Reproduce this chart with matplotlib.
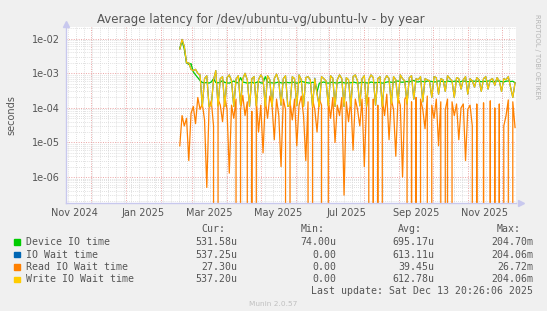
import matplotlib
matplotlib.use('Agg')
import matplotlib.pyplot as plt
import matplotlib.dates as mdates
import matplotlib.ticker as mticker
from matplotlib.patches import Rectangle
import numpy as np
import pandas as pd

# values, in microseconds, one point every 2 days from 2025-02-18
device_io_us = [5300, 8500, 5000, 2000, 1800, 1900, 1100, 900, 750, 620, 540,
	530, 540, 520, 560, 700, 540, 530, 550, 620, 540,
	530, 520, 560, 600, 540, 530, 750, 560, 540, 520,
	530, 550, 520, 540, 580, 530, 520, 800, 560, 540,
	530, 520, 540, 560, 530, 520, 550, 540, 530, 560,
	540, 520, 530, 600, 560, 540, 530, 520, 550, 530,
	290, 520, 540, 560, 530, 520, 540, 550, 530, 520,
	540, 560, 530, 520, 540, 530, 560, 540, 520, 530,
	550, 540, 530, 520, 560, 540, 530, 550, 540, 520,
	530, 560, 570, 550, 540, 580, 600, 560, 550, 570,
	580, 560, 600, 620, 570, 560, 590, 580, 560, 600,
	590, 580, 560, 570, 600, 590, 580, 560, 600, 580,
	570, 590, 600, 560, 580, 600, 590, 570, 580, 600,
	590, 580, 600, 570, 590, 580, 600, 590, 570, 580,
	600, 590, 580, 560, 590, 600, 580, 590, 530]

write_wait_us = [5000, 9500, 6000, 2000, 2000, 1300, 1200, 1300, 1000, 900, 110,
	700, 850, 110, 120, 650, 1200, 115, 700, 800, 110,
	750, 900, 600, 110, 680, 850, 120, 700, 1000, 650,
	110, 700, 800, 115, 650, 900, 700, 110, 850, 650,
	110, 700, 950, 600, 120, 700, 850, 110, 120, 800,
	700, 115, 900, 650, 110, 750, 800, 650, 110, 700,
	250, 110, 800, 700, 600, 115, 850, 700, 110, 650,
	900, 700, 110, 750, 650, 110, 800, 900, 600, 115,
	700, 850, 110, 650, 900, 750, 120, 700, 800, 110,
	650, 850, 700, 130, 800, 650, 140, 900, 700, 600,
	130, 750, 850, 180, 700, 650, 800, 150, 700, 650,
	600, 200, 800, 750, 250, 700, 650, 300, 850, 700,
	600, 200, 750, 700, 350, 650, 800, 250, 700, 600,
	400, 750, 650, 300, 700, 800, 350, 650, 700, 450,
	750, 600, 300, 700, 650, 800, 400, 200, 537]

io_wait_us = [5000, 9500, 6000, 2000, 2000, 1300, 1200, 1300, 1000, 900, 110,
	700, 850, 110, 120, 650, 1200, 115, 700, 800, 110,
	750, 900, 600, 110, 680, 850, 120, 700, 1000, 650,
	110, 700, 800, 115, 650, 900, 700, 110, 850, 650,
	110, 700, 950, 600, 120, 700, 850, 110, 120, 800,
	700, 115, 900, 650, 110, 750, 800, 650, 110, 720,
	260, 110, 800, 700, 600, 115, 850, 720, 110, 650,
	900, 700, 110, 750, 650, 110, 800, 900, 600, 115,
	700, 850, 110, 650, 900, 750, 120, 700, 800, 110,
	650, 850, 700, 130, 800, 650, 140, 900, 700, 600,
	130, 750, 850, 180, 700, 650, 800, 150, 700, 650,
	600, 200, 800, 750, 250, 700, 650, 300, 850, 700,
	600, 200, 750, 700, 350, 650, 800, 250, 700, 600,
	400, 750, 650, 300, 700, 800, 350, 650, 700, 450,
	750, 600, 300, 700, 650, 800, 400, 200, 537]

read_wait_us = [8, 60, 30, 50, 3, 70, 110, 35, 200, 90,
	130, 45, 0.5, 100, 160, 30, 0, 180, 120, 40,
	220, 90, 1.3, 120, 50, 180, 0, 90, 230, 60,
	150, 0, 80, 0, 180, 20, 120, 5, 180, 50,
	220, 120, 12, 180, 60, 2, 180, 90, 0, 150,
	45, 180, 8, 120, 220, 60, 3, 150, 0, 180,
	90, 20, 180, 120, 0, 0, 180, 50, 200, 10,
	120, 60, 200, 0.3, 150, 40, 180, 6, 180, 90,
	30, 180, 2, 120, 200, 0, 180, 0, 120, 0,
	180, 60, 250, 12, 180, 90, 4, 200, 120, 1,
	180, 220, 0, 150, 0, 200, 0, 180, 90, 25,
	220, 0, 120, 50, 180, 8, 150, 0, 90, 180,
	0, 150, 60, 130, 12, 100, 130, 3, 90, 120,
	30, 0, 130, 0, 0, 140, 0, 0, 160, 0,
	100, 0, 130, 0, 30, 60, 170, 0, 150, 27]

series_names = ['Device IO time', 'IO Wait time', 'Read IO Wait time', 'Write IO Wait time']
series_cols = ['#00cc00', '#0066b3', '#ff8000', '#ffcc00']
cur_txt = ['531.58u', '537.25u', '27.30u', '537.20u']
min_txt = ['74.00u', '0.00', '0.00', '0.00']
avg_txt = ['695.17u', '613.11u', '39.45u', '612.78u']
max_txt = ['204.70m', '204.06m', '26.72m', '204.06m']

xlabels = ['Nov 2024', 'Jan 2025', 'Mar 2025', 'May 2025', 'Jul 2025', 'Sep 2025', 'Nov 2025']
xlabel_dates = ['2024-11-16', '2025-01-16', '2025-03-16', '2025-05-16', '2025-07-16', '2025-09-16', '2025-11-16']

W = 547
H = 311
txtcol = '#555555'

fig = plt.figure(figsize=(W/100., H/100.), dpi=100, facecolor='#f0f0f0')
ax = fig.add_axes([66./W, 1-203./H, 450./W, 176./H])
ax.set_facecolor('white')

dates = pd.date_range('2025-02-18', periods=len(write_wait_us), freq='2D')
all_series = [device_io_us, io_wait_us, read_wait_us, write_wait_us]
for s, c in zip(all_series, series_cols):
	ax.plot(dates, np.array(s)*1e-6, color=c, lw=0.9)

ax.set_yscale('log')
t_end = pd.Timestamp('2025-12-13 20:26:06')
ax.set_xlim(t_end - pd.Timedelta(days=400), t_end)
ax.set_ylim(1.78e-7, 0.0218)

# grid: red dotted for months / decades, grey dotted for weeks / sub-decades
ax.xaxis.set_major_locator(mdates.MonthLocator())
ax.xaxis.set_minor_locator(mdates.WeekdayLocator(byweekday=mdates.MO))
ax.xaxis.set_major_formatter(mticker.NullFormatter())
ax.yaxis.set_major_locator(mticker.LogLocator(base=10, numticks=20))
ax.yaxis.set_minor_locator(mticker.LogLocator(base=10, subs=np.arange(2, 10), numticks=20))
ax.yaxis.set_major_formatter(mticker.FuncFormatter(lambda v, p: '%.0e' % v))
ax.yaxis.set_minor_formatter(mticker.NullFormatter())
ax.grid(which='major', color='#eba4a4', linestyle=(0, (1, 1.5)), lw=0.7)
ax.grid(which='minor', color='#d6d6d6', linestyle=(0, (1, 1.5)), lw=0.6)
ax.set_axisbelow(True)
ax.tick_params(which='both', length=0, labelsize=7, labelcolor=txtcol, pad=4.5)
for sp in ['top', 'right']:
	ax.spines[sp].set_visible(False)
for sp in ['left', 'bottom']:
	ax.spines[sp].set_color('#c8c8ee')
	ax.spines[sp].set_linewidth(1)
ax.plot([1.01], [0], marker='>', color='#c8c8ee', ms=4, transform=ax.transAxes, clip_on=False)
ax.plot([0], [1.015], marker='^', color='#c8c8ee', ms=4, transform=ax.transAxes, clip_on=False)

for d, lab in zip(xlabel_dates, xlabels):
	ax.text(pd.Timestamp(d), -9.5/176., lab, transform=ax.get_xaxis_transform(),
		ha='center', va='center', fontsize=7, color=txtcol)

fig.text(11.7/W, 1-115./H, 'seconds', rotation=90, ha='center', va='center', fontsize=7, color=txtcol)
fig.text(261./W, 1-19.5/H, 'Average latency for /dev/ubuntu-vg/ubuntu-lv - by year',
	ha='center', va='center', fontsize=8.5, color=txtcol)
fig.text(537.5/W, 1-57./H, 'RRDTOOL / TOBI OETIKER', rotation=270, ha='center', va='center',
	fontsize=4.8, color='#b4b4b4')

# legend block
mono = 'DejaVu Sans Mono'
fs = 7.1
hdr_y = 229.
for txt, xr in zip(['Cur:', 'Min:', 'Avg:', 'Max:'], [225., 324.5, 422., 520.6]):
	fig.text(xr/W, 1-hdr_y/H, txt, ha='right', va='center', family=mono, fontsize=fs, color=txtcol)
row_y = [242., 254.5, 267., 279.5]
for i in range(4):
	y = row_y[i]
	fig.add_artist(Rectangle((14./W, 1-(y+2.75)/H), 5.5/W, 5.5/H, transform=fig.transFigure,
		color=series_cols[i]))
	fig.text(26.2/W, 1-y/H, series_names[i], ha='left', va='center', family=mono, fontsize=fs, color=txtcol)
	for vals, xr in zip([cur_txt, min_txt, avg_txt, max_txt], [237.3, 336.7, 434.4, 533.]):
		fig.text(xr/W, 1-y/H, vals[i], ha='right', va='center', family=mono, fontsize=fs, color=txtcol)
fig.text(533./W, 1-291.5/H, 'Last update: Sat Dec 13 20:26:06 2025', ha='right', va='center',
	family=mono, fontsize=fs, color=txtcol)
fig.text(273./W, 1-304./H, 'Munin 2.0.57', ha='center', va='center', fontsize=5.3, color='#c0c0c0')

fig.savefig('out.png', dpi=100, facecolor=fig.get_facecolor())
